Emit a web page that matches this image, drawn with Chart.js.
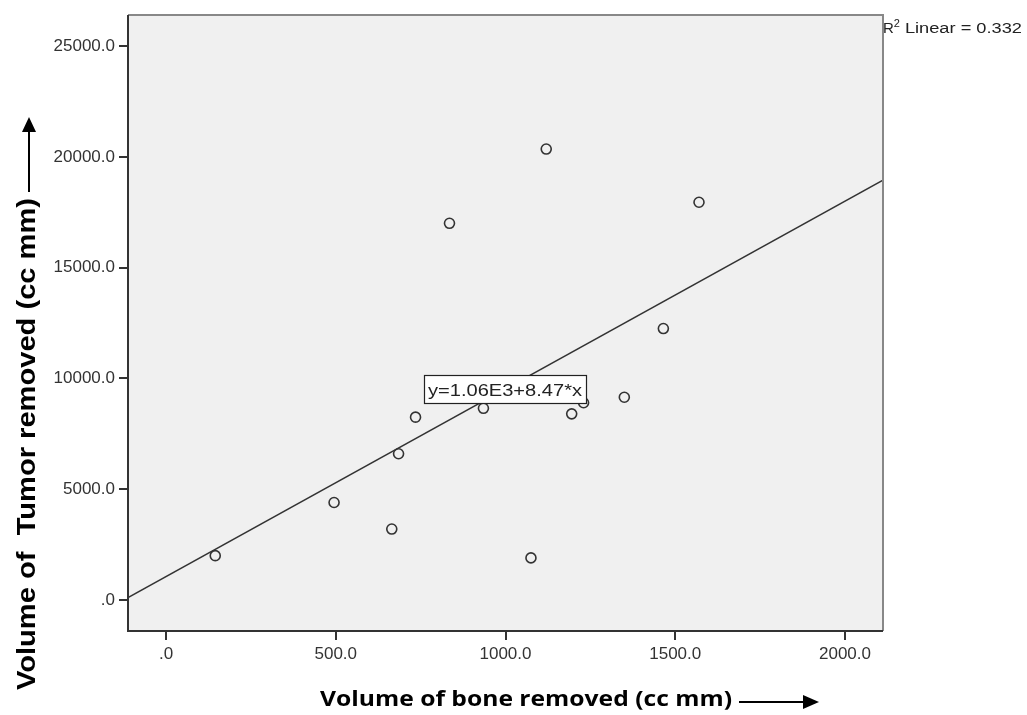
<!DOCTYPE html>
<html>
<head>
<meta charset="utf-8">
<script src="https://cdn.jsdelivr.net/npm/chart.js@4/dist/chart.umd.min.js"></script>
<style>
  body { margin: 0; background: #fff; }
  canvas { display: block; }
</style>
</head>
<body>
<canvas id="scatter" width="1027" height="715"></canvas>
<script>
// values
const boneVolume = [145, 495, 665, 685, 735, 835, 935, 1075, 1120, 1195, 1230, 1350, 1465, 1570];
const tumorVolume = [2000, 4400, 3200, 6600, 8250, 17000, 8650, 1900, 20350, 8400, 8900, 9150, 12250, 17950];
const xTicks = [0, 500, 1000, 1500, 2000];
const yTicks = [0, 5000, 10000, 15000, 20000, 25000];
const fitIntercept = 1060;
const fitSlope = 8.47;
const rSquared = '0.332';
const xRange = [-112, 2112];
const yRange = [-1400, 26400];

fmt = function(v) { return v === 0 ? '.0' : v.toFixed(1); }

points = boneVolume.map((b, i) => ({ x: b, y: tumorVolume[i] }));
fitLine = xRange.map(x => ({ x: x, y: fitIntercept + fitSlope * x }));

// draw text squeezed/stretched to a target width
fitText = function(ctx, txt, x, y, w) {
    const m = ctx.measureText(txt).width;
    ctx.save();
    ctx.translate(x, y);
    ctx.scale(w / m, 1);
    ctx.fillText(txt, 0, 0);
    ctx.restore();
}

const decor = {
    id: 'decor',
    beforeDatasetsDraw(chart) {
        const ctx = chart.ctx, a = chart.chartArea;
        ctx.save();
        ctx.fillStyle = '#f0f0f0';
        ctx.fillRect(a.left, a.top, a.right - a.left, a.bottom - a.top);
        ctx.restore();
    },
    afterDraw(chart) {
        const ctx = chart.ctx, a = chart.chartArea;
        ctx.save();
        // frame
        ctx.lineWidth = 2;
        ctx.strokeStyle = '#888';
        ctx.beginPath();
        ctx.moveTo(a.left, a.top); ctx.lineTo(a.right, a.top); ctx.lineTo(a.right, a.bottom);
        ctx.stroke();
        ctx.strokeStyle = '#333';
        ctx.beginPath();
        ctx.moveTo(a.left, a.top); ctx.lineTo(a.left, a.bottom); ctx.lineTo(a.right, a.bottom);
        ctx.stroke();

        // equation box
        const eq = 'y=1.06E3+8.47*x';
        ctx.fillStyle = '#fff';
        ctx.fillRect(424, 375, 162, 28);
        ctx.strokeStyle = '#222';
        ctx.lineWidth = 1.2;
        ctx.strokeRect(424.5, 375.5, 162, 28);
        ctx.fillStyle = '#222';
        ctx.font = '17px "Liberation Sans", Arial, sans-serif';
        ctx.textBaseline = 'alphabetic';
        ctx.textAlign = 'left';
        fitText(ctx, eq, 428, 396, 154);

        // R2 label
        ctx.font = '15px "Liberation Sans", Arial, sans-serif';
        ctx.fillText('R', 883, 33);
        const rw = ctx.measureText('R').width;
        ctx.font = '11px "Liberation Sans", Arial, sans-serif';
        ctx.fillText('2', 883 + rw, 27);
        ctx.font = '14px "Liberation Sans", Arial, sans-serif';
        fitText(ctx, ' Linear = ' + rSquared, 883 + rw + 6, 33, 1022 - (883 + rw + 6));

        // x title + arrow
        ctx.fillStyle = '#000';
        ctx.font = 'bold 21px "Open Sans", "Liberation Sans", sans-serif';
        fitText(ctx, 'Volume of bone removed (cc mm)', 320, 706, 412);
        ctx.strokeStyle = '#000';
        ctx.lineWidth = 2;
        ctx.beginPath();
        ctx.moveTo(739, 702); ctx.lineTo(806, 702);
        ctx.stroke();
        ctx.beginPath();
        ctx.moveTo(819, 702); ctx.lineTo(803, 695); ctx.lineTo(803, 709); ctx.closePath();
        ctx.fill();

        // y title + arrow
        ctx.save();
        ctx.translate(35, 690);
        ctx.rotate(-Math.PI / 2);
        ctx.font = 'bold 25px "Liberation Sans", Arial, sans-serif';
        fitText(ctx, 'Volume of  Tumor removed (cc mm)', 0, 0, 492);
        ctx.restore();
        ctx.beginPath();
        ctx.moveTo(29, 192); ctx.lineTo(29, 128);
        ctx.stroke();
        ctx.beginPath();
        ctx.moveTo(29, 117); ctx.lineTo(22, 132); ctx.lineTo(36, 132); ctx.closePath();
        ctx.fill();
        ctx.restore();
    }
};

tickFont = { family: '"Liberation Sans", Arial, sans-serif', size: 17 };

const chart = new Chart(document.getElementById('scatter').getContext('2d'), {
    type: 'scatter',
    data: {
        datasets: [{
            type: 'scatter',
            data: points,
            pointRadius: 5,
            pointBorderWidth: 1.6,
            borderColor: '#333',
            backgroundColor: 'rgba(0,0,0,0)',
            order: 1
        }, {
            type: 'line',
            data: fitLine,
            pointRadius: 0,
            borderColor: '#333',
            borderWidth: 1.5,
            fill: false,
            order: 2
        }]
    },
    options: {
        responsive: false,
        animation: false,
        layout: { padding: { top: 15, right: 144, left: 0, bottom: 0 } },
        plugins: { legend: { display: false }, tooltip: { enabled: false } },
        scales: {
            x: {
                type: 'linear',
                min: xRange[0],
                max: xRange[1],
                afterBuildTicks: s => { s.ticks = xTicks.map(v => ({ value: v })); },
                afterFit: s => { s.height = 84; },
                border: { display: false },
                grid: { drawOnChartArea: false, drawTicks: true, tickLength: 9, color: '#333', lineWidth: 2 },
                ticks: { font: tickFont, color: '#333', padding: 4, callback: fmt, maxRotation: 0 }
            },
            y: {
                type: 'linear',
                min: yRange[0],
                max: yRange[1],
                afterBuildTicks: s => { s.ticks = yTicks.map(v => ({ value: v })); },
                afterFit: s => { s.width = 128; },
                border: { display: false },
                grid: { drawOnChartArea: false, drawTicks: true, tickLength: 9, color: '#333', lineWidth: 2 },
                ticks: { font: tickFont, color: '#333', padding: 4, callback: fmt }
            }
        }
    },
    plugins: [decor]
});
</script>
</body>
</html>
